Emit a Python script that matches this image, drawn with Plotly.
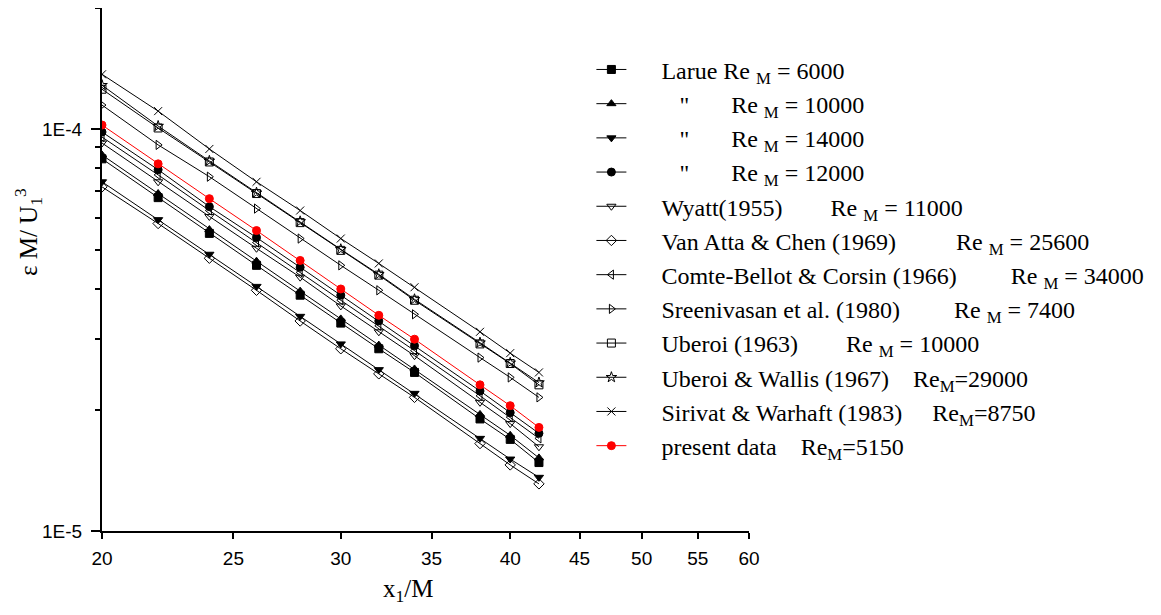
import plotly.graph_objects as go

x_m = [20, 22, 24, 26, 28, 30, 32, 34, 38, 40, 42]

# epsilon M / U1^3
larue_6000 = [8.43e-5, 6.75e-5, 5.50e-5, 4.58e-5, 3.86e-5, 3.29e-5, 2.84e-5, 2.48e-5, 1.90e-5, 1.69e-5, 1.48e-5]
larue_10000 = [8.62e-5, 6.91e-5, 5.62e-5, 4.69e-5, 3.95e-5, 3.37e-5, 2.90e-5, 2.53e-5, 1.95e-5, 1.73e-5, 1.52e-5]
larue_14000 = [7.39e-5, 5.95e-5, 4.88e-5, 4.06e-5, 3.42e-5, 2.92e-5, 2.52e-5, 2.20e-5, 1.70e-5, 1.51e-5, 1.36e-5]
larue_12000 = [9.83e-5, 7.92e-5, 6.41e-5, 5.37e-5, 4.53e-5, 3.86e-5, 3.33e-5, 2.89e-5, 2.23e-5, 1.97e-5, 1.75e-5]
wyatt = [9.23e-5, 7.39e-5, 6.06e-5, 5.05e-5, 4.28e-5, 3.63e-5, 3.13e-5, 2.73e-5, 2.09e-5, 1.85e-5, 1.62e-5]
van_atta = [7.18e-5, 5.82e-5, 4.77e-5, 3.97e-5, 3.33e-5, 2.84e-5, 2.46e-5, 2.15e-5, 1.65e-5, 1.46e-5, 1.31e-5]
comte_bellot = [9.55e-5, 7.69e-5, 6.27e-5, 5.22e-5, 4.40e-5, 3.75e-5, 3.24e-5, 2.81e-5, 2.17e-5, 1.92e-5, 1.70e-5]
sreenivasan = [1.147e-4, 9.13e-5, 7.61e-5, 6.34e-5, 5.34e-5, 4.58e-5, 3.97e-5, 3.46e-5, 2.70e-5, 2.41e-5, 2.15e-5]
uberoi = [1.256e-4, 1.006e-4, 8.28e-5, 6.91e-5, 5.85e-5, 4.99e-5, 4.33e-5, 3.75e-5, 2.92e-5, 2.61e-5, 2.31e-5]
uberoi_wallis = [1.285e-4, 1.017e-4, 8.33e-5, 6.94e-5, 5.89e-5, 5.02e-5, 4.35e-5, 3.77e-5, 2.94e-5, 2.62e-5, 2.34e-5]
sirivat = [1.368e-4, 1.108e-4, 8.92e-5, 7.39e-5, 6.27e-5, 5.34e-5, 4.63e-5, 4.04e-5, 3.13e-5, 2.77e-5, 2.48e-5]
present = [1.023e-4, 8.19e-5, 6.71e-5, 5.59e-5, 4.71e-5, 4.00e-5, 3.44e-5, 3.00e-5, 2.31e-5, 2.05e-5, 1.81e-5]

sp = "\u00a0"
pad = sp * 5
series = [
    ("Larue Re <sub>M</sub> = 6000", larue_6000, "square", "black"),
    (sp * 3 + '"' + sp * 7 + "Re <sub>M</sub> = 10000", larue_10000, "triangle-up", "black"),
    (sp * 3 + '"' + sp * 7 + "Re <sub>M</sub> = 14000", larue_14000, "triangle-down", "black"),
    (sp * 3 + '"' + sp * 7 + "Re <sub>M</sub> = 12000", larue_12000, "circle", "black"),
    ("Wyatt(1955)" + sp * 8 + "Re <sub>M</sub> = 11000", wyatt, "triangle-down-open", "black"),
    ("Van Atta & Chen (1969)" + sp * 10 + "Re <sub>M</sub> = 25600", van_atta, "diamond-open", "black"),
    ("Comte-Bellot & Corsin (1966)" + sp * 9 + "Re <sub>M</sub> = 34000", comte_bellot, "triangle-left-open", "black"),
    ("Sreenivasan et al. (1980)" + sp * 9 + "Re <sub>M</sub> = 7400", sreenivasan, "triangle-right-open", "black"),
    ("Uberoi (1963)" + sp * 8 + "Re <sub>M</sub> = 10000", uberoi, "square-open", "black"),
    ("Uberoi & Wallis (1967)" + sp * 4 + "Re<sub>M</sub>=29000", uberoi_wallis, "star-open", "black"),
    ("Sirivat & Warhaft (1983)" + sp * 5 + "Re<sub>M</sub>=8750", sirivat, "x-thin-open", "black"),
    ("present data" + sp * 4 + "Re<sub>M</sub>=5150", present, "circle", "red"),
]

fig = go.Figure()
for i, (name, vals, sym, col) in enumerate(series):
    fig.add_trace(go.Scatter(
        x=x_m, y=vals, name=pad + name, mode="lines+markers",
        line=dict(color=col, width=1),
        marker=dict(symbol=sym, size=8, color=col, line=dict(color=col, width=1)),
    ))

axis_font = dict(family="Liberation Sans, Arial", size=19, color="black")
serif = "Liberation Serif, Times New Roman"
fig.update_layout(
    width=1161, height=615,
    margin=dict(l=94, r=420, t=0, b=92, autoexpand=False),
    plot_bgcolor="white", paper_bgcolor="white",
    font=dict(family=serif, size=24, color="black"),
    legend=dict(
        xref="container", yref="container", x=0.5025, y=0.936,
        xanchor="left", yanchor="top",
        font=dict(family=serif, size=24, color="black"),
        bgcolor="rgba(0,0,0,0)", maxheight=1,
    ),
    xaxis=dict(
        type="log", range=[1.30103, 1.778151],
        tickvals=[20, 25, 30, 35, 40, 45, 50, 55, 60],
        ticktext=["20", "25", "30", "35", "40", "45", "50", "55", "60"],
        ticks="outside", ticklen=6, tickwidth=1.5, tickcolor="black",
        showline=True, linecolor="black", linewidth=2, showgrid=False, zeroline=False,
        tickfont=axis_font, ticklabelstandoff=3,
    ),
    yaxis=dict(
        type="log", range=[-5, -3.69897],
        tickvals=[1e-5, 1e-4], ticktext=["1E-5", "1E-4"],
        ticks="outside", ticklen=9, tickwidth=1.5, tickcolor="black",
        minor=dict(ticks="outside", ticklen=5, tickwidth=1.5, tickcolor="black", showgrid=False,
                   tickvals=[2e-5, 3e-5, 4e-5, 5e-5, 6e-5, 7e-5, 8e-5, 9e-5, 2e-4]),
        showline=True, linecolor="black", linewidth=2, showgrid=False, zeroline=False,
        tickfont=axis_font, ticklabelstandoff=5,
    ),
    annotations=[
        dict(text="x<sub>1</sub>/M", xref="paper", yref="paper", x=0.473, y=-0.113,
             xanchor="center", yanchor="middle", showarrow=False, font=dict(family=serif, size=25)),
        dict(text="ε M/ U<sub>1</sub><sup>3</sup>", xref="paper", yref="paper", x=-0.114, y=0.572,
             xanchor="center", yanchor="middle", textangle=-90, showarrow=False,
             font=dict(family=serif, size=25)),
    ],
)

fig.write_html("out.html")
